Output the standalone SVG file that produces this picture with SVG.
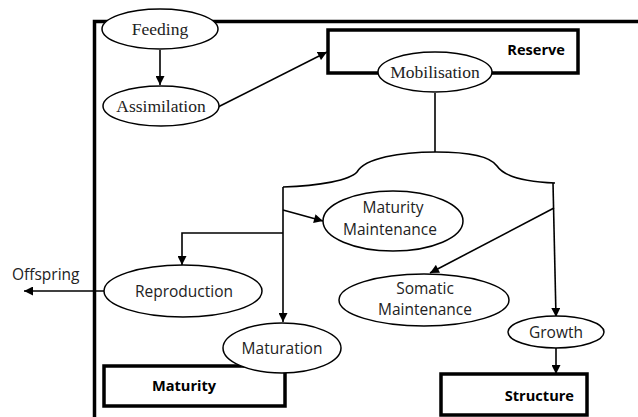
<svg xmlns="http://www.w3.org/2000/svg" width="638" height="417" viewBox="0 0 638 417">
<defs>
<marker id="ah" viewBox="0 0 10 10" refX="10" refY="5" markerWidth="10" markerHeight="9" markerUnits="userSpaceOnUse" orient="auto">
<path d="M0,0 L10,5 L0,10 Z" fill="#000"/>
</marker>
<style>
.frame{fill:none;stroke:#000;stroke-width:3.5}
.box{fill:#fff;stroke:#000;stroke-width:3.5}
.ell{fill:#fff;stroke:#000;stroke-width:1.5}
.ln{fill:none;stroke:#000;stroke-width:1.6}
.arr{fill:none;stroke:#000;stroke-width:1.6;marker-end:url(#ah)}
.serif{font-family:"Liberation Serif","Times New Roman",serif;font-size:17.5px;fill:#222}
.sans{font-family:"Open Sans","Liberation Sans",sans-serif;font-size:15.5px;fill:#222}
.bold{font-family:"Open Sans","Liberation Sans",sans-serif;font-size:14.6px;font-weight:700;fill:#000}
</style>
</defs>
<rect width="638" height="417" fill="#fff"/>
<path class="frame" d="M94.5,417 L94.5,21.5 L638,21.5"/>
<g id="connectors">
<path class="arr" d="M160,50 L160,85"/>
<path class="arr" d="M218,107 L327,52"/>
<path class="ln" d="M435,93 L435,152"/>
<path class="ln" d="M283,187 C320,186 350,180 357,172 C365,158 400,152 436,152 C470,152 490,156 497,166 C505,178 530,182 555,183"/>
<path class="arr" d="M283,187 L283,322"/>
<path class="arr" d="M283,210 L323,221"/>
<path class="arr" d="M283,233 L182,233 L182,265"/>
<path class="arr" d="M553,183 L556,317"/>
<path class="arr" d="M554,208 L430,273"/>
<path class="arr" d="M556,348 L556,374"/>
<path class="arr" d="M104,291 L24,291"/>
</g>
<g id="reserve"><rect class="box" x="328" y="30" width="250" height="43"/><text class="bold" x="565" y="55" text-anchor="end">Reserve</text></g>
<g id="feeding"><ellipse class="ell" cx="160" cy="29" rx="58" ry="20"/><text class="serif" x="160" y="35" text-anchor="middle">Feeding</text></g>
<g id="assimilation"><ellipse class="ell" cx="161" cy="106" rx="58" ry="20"/><text class="serif" x="161" y="112" text-anchor="middle">Assimilation</text></g>
<g id="mobilisation"><ellipse class="ell" cx="435" cy="72" rx="57" ry="20"/><text class="serif" x="435" y="78" text-anchor="middle">Mobilisation</text></g>
<g id="maturity-maintenance"><ellipse class="ell" cx="393" cy="221" rx="70" ry="30"/><text class="sans" x="393" y="213" text-anchor="middle">Maturity</text><text class="sans" x="390" y="235" text-anchor="middle">Maintenance</text></g>
<g id="reproduction"><ellipse class="ell" cx="183" cy="291" rx="79" ry="26"/><text class="sans" x="184" y="297" text-anchor="middle">Reproduction</text></g>
<g id="offspring"><text class="sans" x="12" y="280">Offspring</text></g>
<g id="somatic-maintenance"><ellipse class="ell" cx="424" cy="300" rx="85" ry="26"/><text class="sans" x="425" y="294" text-anchor="middle">Somatic</text><text class="sans" x="425" y="315" text-anchor="middle">Maintenance</text></g>
<g id="growth"><ellipse class="ell" cx="556" cy="332" rx="48" ry="16"/><text class="sans" x="556" y="338" text-anchor="middle">Growth</text></g>
<g id="maturity"><rect class="box" x="104" y="366" width="181" height="40"/><text class="bold" x="184" y="391" text-anchor="middle">Maturity</text></g>
<g id="maturation"><ellipse class="ell" cx="282" cy="348" rx="59" ry="25"/><text class="sans" x="282" y="354" text-anchor="middle">Maturation</text></g>
<g id="structure"><rect class="box" x="441" y="374" width="146" height="41"/><text class="bold" x="574" y="401" text-anchor="end">Structure</text></g>
</svg>
